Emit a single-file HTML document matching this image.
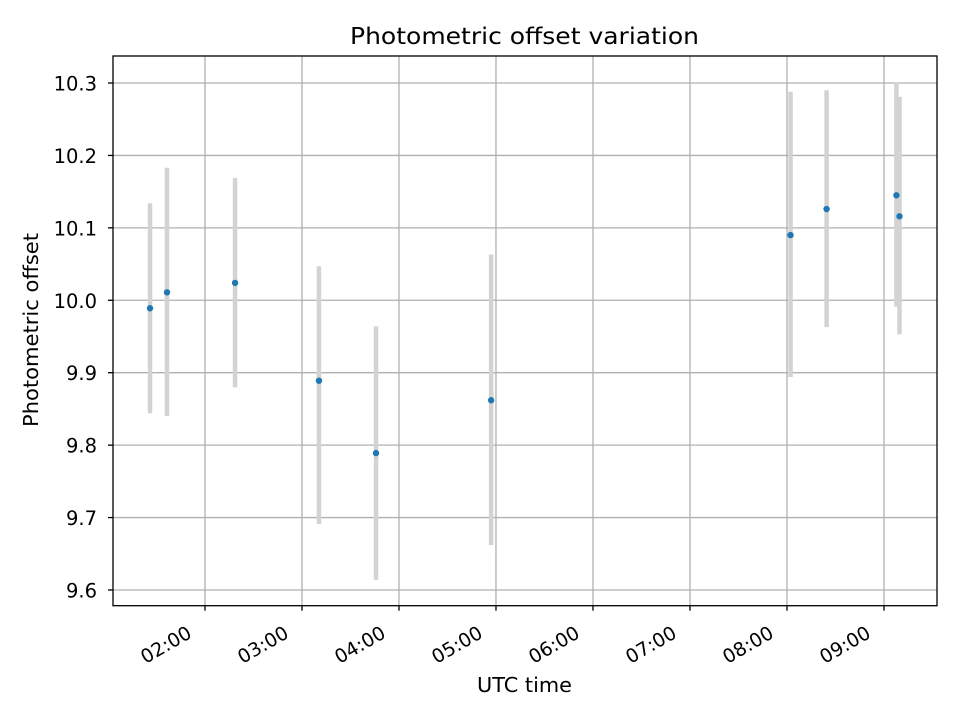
<!DOCTYPE html>
<html><head><meta charset="utf-8"><style>
html,body{margin:0;padding:0;background:#fff;}
svg{display:block;font-family:"DejaVu Sans","Liberation Sans",sans-serif;}
</style></head><body>
<svg id="chart" width="960" height="720">
<rect x="0" y="0" width="960" height="720" fill="#fff"/>
<text x="350" y="44" font-size="23" textLength="349" lengthAdjust="spacingAndGlyphs">Photometric offset variation</text>
<g id="grid"></g><g id="bars"></g><g id="pts"></g><g id="axes"></g>
<text x="477" y="692" font-size="20" textLength="95" lengthAdjust="spacingAndGlyphs">UTC time</text>
<text x="0" y="0" font-size="20" text-anchor="middle" textLength="194" lengthAdjust="spacingAndGlyphs" transform="translate(38,330) rotate(-90)">Photometric offset</text>
</svg>
<script>
// data (times in minutes since 00:00 UTC)
const times = [86, 96.5, 138.6, 190.5, 225.8, 297, 482.2, 504.5, 547.7, 549.6];
const values = [9.989, 10.011, 10.024, 9.889, 9.789, 9.862, 10.090, 10.126, 10.145, 10.116];
const errLow = [9.844, 9.840, 9.880, 9.691, 9.614, 9.662, 9.894, 9.963, 9.991, 9.953];
const errHigh = [10.134, 10.183, 10.169, 10.047, 9.964, 10.063, 10.288, 10.290, 10.301, 10.281];
const xTicks = [120, 180, 240, 300, 360, 420, 480, 540];
const xTickLabels = ["02:00","03:00","04:00","05:00","06:00","07:00","08:00","09:00"];
const yTicks = [9.6, 9.7, 9.8, 9.9, 10.0, 10.1, 10.2, 10.3];
const yTickLabels = ["9.6","9.7","9.8","9.9","10.0","10.1","10.2","10.3"];

const L=113,R=937,T=56,B=605.7;
const xMin=63.1,xMax=572.8,yMin=9.5783,yMax=10.3373;
const xs=v=>L+(v-xMin)/(xMax-xMin)*(R-L);
const ys=v=>B-(v-yMin)/(yMax-yMin)*(B-T);
const NS="http://www.w3.org/2000/svg";
function mk(parent,tag,attrs){const e=document.createElementNS(NS,tag);for(const k in attrs)e.setAttribute(k,attrs[k]);document.getElementById(parent).appendChild(e);return e;}

xTicks.forEach((t,i)=>{
  const x=xs(t);
  const g=mk('grid','line',{x1:x,x2:x,y1:T,y2:B,stroke:'#b0b0b0','stroke-width':1.3});
  
  
  const tk=mk('axes','line',{x1:x,x2:x,y1:B,y2:B+5,stroke:'#000','stroke-width':1.3});
  
  
  const px=x-12, py=B+31;
  const lb=mk('axes','text',{x:px,y:py,'font-size':19,'text-anchor':'end',transform:`rotate(-30 ${px} ${py})`});
  lb.textContent=xTickLabels[i];
  
  
});
yTicks.forEach((t,i)=>{
  const y=ys(t);
  const g=mk('grid','line',{x1:L,x2:R,y1:y,y2:y,stroke:'#b0b0b0','stroke-width':1.3});
  
  
  const tk=mk('axes','line',{x1:L-5,x2:L,y1:y,y2:y,stroke:'#000','stroke-width':1.3});
  
  
  const lb=mk('axes','text',{x:L-16,y:y+7.5,'font-size':19.5,'text-anchor':'end'});
  lb.textContent=yTickLabels[i];
  
  
});
times.forEach((t,i)=>{
  const x=xs(t);
  const b=mk('bars','line',{x1:x,x2:x,y1:ys(errHigh[i]),y2:ys(errLow[i]),stroke:'#d3d3d3','stroke-width':4.5});
  
  
  const p=mk('pts','circle',{cx:x,cy:ys(values[i]),r:3.2,fill:'#1f77b4'});
  
  
});
const f=mk('axes','rect',{x:L,y:T,width:R-L,height:B-T,fill:'none',stroke:'#000','stroke-width':1.3});


</script>
</body></html>
